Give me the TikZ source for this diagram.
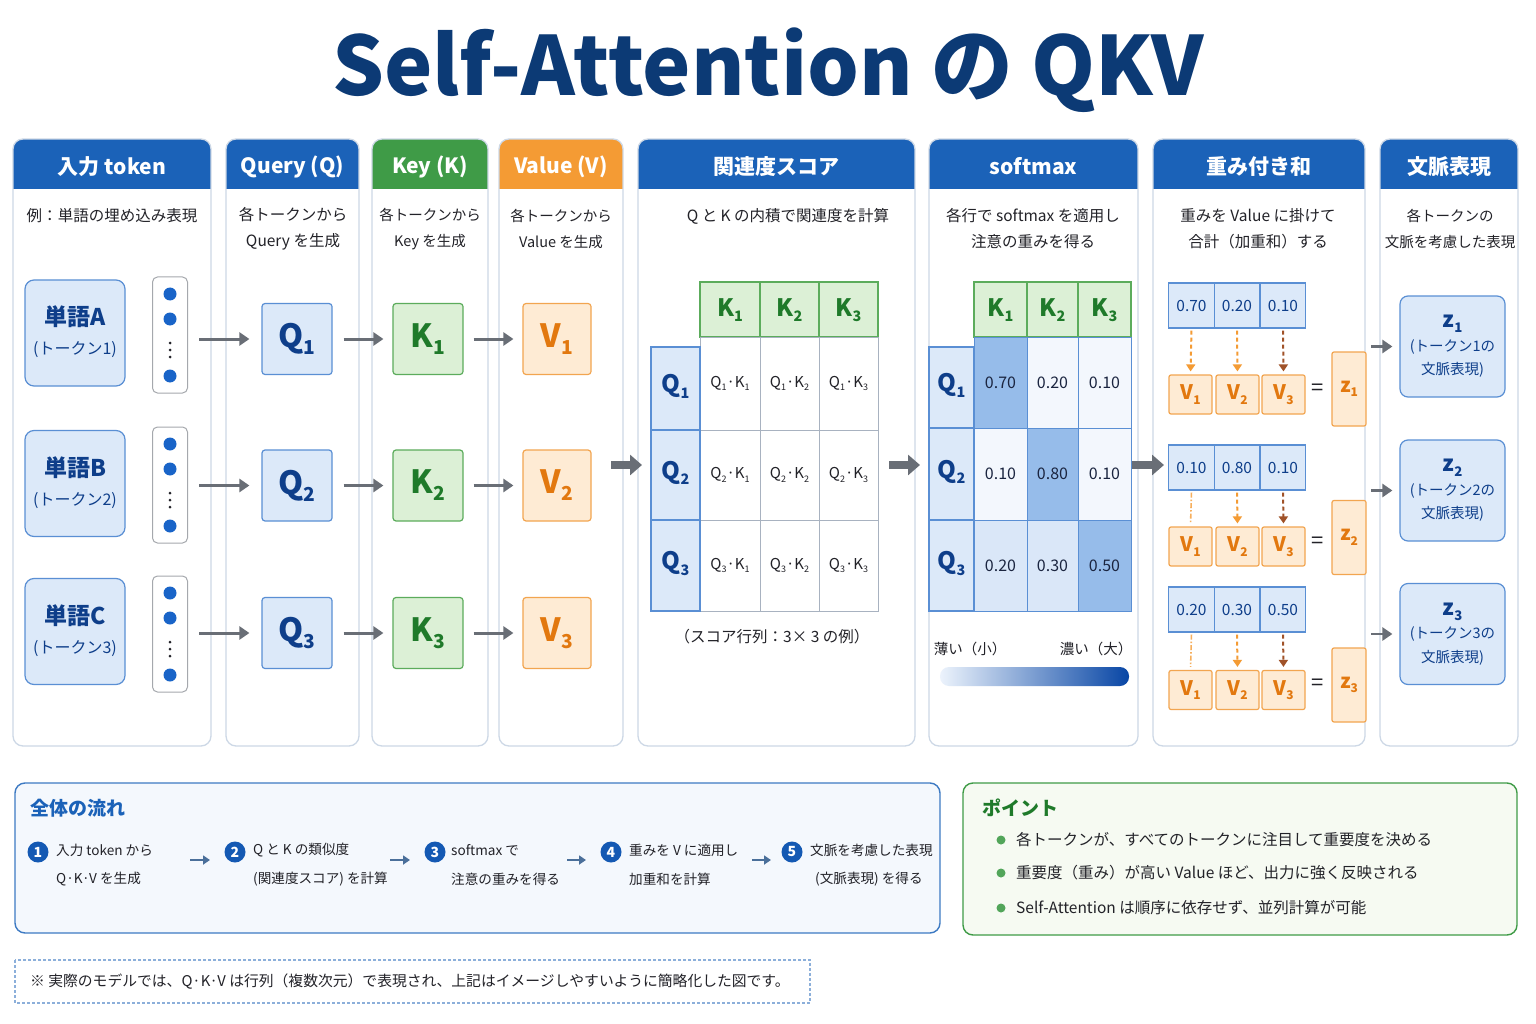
\documentclass[tikz,border=0pt]{standalone}
\usepackage{fontspec}
\usepackage{graphicx}
\setmainfont{Noto Sans CJK JP}
\usetikzlibrary{arrows.meta}
\definecolor{navy}{RGB}{12,58,117}
\definecolor{hblue}{RGB}{27,98,184}
\definecolor{hgreen}{RGB}{63,155,71}
\definecolor{horange}{RGB}{244,155,52}
\definecolor{pborder}{RGB}{205,216,230}
\definecolor{txt}{RGB}{34,34,40}
\definecolor{lblue}{RGB}{220,233,249}
\definecolor{bblue}{RGB}{90,143,212}
\definecolor{qtext}{RGB}{14,62,138}
\definecolor{lgreen}{RGB}{220,240,214}
\definecolor{bgreen}{RGB}{92,172,92}
\definecolor{ktext}{RGB}{31,122,42}
\definecolor{lorange}{RGB}{254,235,212}
\definecolor{borange}{RGB}{242,165,80}
\definecolor{vtext}{RGB}{226,120,15}
\definecolor{agray}{RGB}{105,110,118}
\definecolor{cellgray}{RGB}{168,178,192}
\definecolor{dotblue}{RGB}{25,100,200}
\definecolor{brownarr}{RGB}{160,82,40}
\definecolor{flowarr}{RGB}{74,111,154}
\definecolor{circblue}{RGB}{20,89,179}
\definecolor{boxbg}{RGB}{244,248,253}
\definecolor{greenbg}{RGB}{246,250,242}
\definecolor{footb}{RGB}{140,175,218}
\definecolor{smd}{RGB}{150,188,234}
\definecolor{sml}{RGB}{218,231,248}
\definecolor{smw}{RGB}{243,247,253}
\definecolor{numtxt}{RGB}{27,37,64}
\definecolor{barl}{RGB}{236,243,252}
\definecolor{bard}{RGB}{8,70,165}
\newcommand\sbx[1]{\raisebox{-0.22em}{\scalebox{0.6}{#1}}}
\tikzset{
  hdrtxt/.style={text=white,font=\fontsize{21}{24}\selectfont\bfseries},
  subtxt/.style={text=txt,font=\fontsize{15.5}{26}\selectfont,align=center},
  subsm/.style={subtxt,font=\fontsize{14.5}{26}\selectfont},
  qcell/.style={draw=bblue,fill=lblue,line width=1.2pt,rounded corners=3pt,minimum width=70pt,minimum height=71pt,text=qtext,font=\fontsize{32}{32}\selectfont\bfseries},
  kcell/.style={qcell,draw=bgreen,fill=lgreen,text=ktext},
  vcell/.style={qcell,draw=borange,fill=lorange,text=vtext,minimum width=68pt},
  wordbox/.style={draw=bblue,fill=lblue,line width=1.2pt,rounded corners=9pt,minimum width=100pt,minimum height=106pt},
  vecbox/.style={draw=agray!60,fill=white,line width=1pt,rounded corners=5pt,minimum width=35pt,minimum height=116pt},
  garrow/.style={draw=agray,line width=3pt,-{Triangle[length=10pt,width=13pt]}},
  bigarrow/.style={draw=agray,line width=8pt,-{Triangle[length=12pt,width=20pt]}},
  mlabq/.style={text=qtext,font=\fontsize{24}{24}\selectfont\bfseries},
  mlabk/.style={text=ktext,font=\fontsize{24}{24}\selectfont\bfseries},
  celltxt/.style={text=txt,font=\fontsize{15}{15}\selectfont},
  numtext/.style={text=numtxt,font=\fontsize{16}{16}\selectfont},
  wcell/.style={draw=bblue,fill=lblue,line width=1.2pt,minimum width=45.5pt,minimum height=45pt,inner sep=0pt,text=qtext,font=\fontsize{15.5}{15.5}\selectfont},
  wvcell/.style={draw=borange,fill=lorange,line width=1.2pt,rounded corners=2pt,minimum width=43pt,minimum height=39pt,inner sep=0pt,text=vtext,font=\fontsize{20}{20}\selectfont\bfseries},
  zcell/.style={wvcell,minimum width=34pt,minimum height=74pt},
  darr/.style={draw=horange,line width=2pt,dash pattern=on 4pt off 3pt,-{Triangle[length=7pt,width=9pt]},shorten <=2pt,shorten >=3pt},
  brarr/.style={darr,draw=brownarr},
  ddarr/.style={draw=horange!80,line width=1.6pt,dash pattern=on 5pt off 2pt on 1.5pt off 2pt,shorten <=2pt,shorten >=3pt},
  ctxbox/.style={draw=bblue,fill=lblue,line width=1.2pt,rounded corners=8pt,minimum width=105pt,minimum height=101pt,text=qtext,align=center,font=\fontsize{14.5}{23.5}\selectfont},
  numcirc/.style={circle,fill=circblue,text=white,minimum size=21pt,inner sep=0pt,font=\fontsize{14}{14}\selectfont\bfseries},
  steptxt/.style={anchor=west,text=txt,font=\fontsize{13.6}{13.6}\selectfont,inner sep=0pt},
  flowarrow/.style={draw=flowarr,line width=2.5pt,-{Triangle[length=7pt,width=9pt]}},
  pointtxt/.style={anchor=west,text=txt,font=\fontsize{15.5}{15.5}\selectfont,inner sep=0pt}
}
\begin{document}
\begin{tikzpicture}[x=1pt,y=-1pt]
\useasboundingbox (0,0) rectangle (1536,1024);
\fill[white] (0,0) rectangle (1536,1024);

% title
\node[anchor=base,text=navy,font=\fontsize{81.5}{90}\selectfont\bfseries,inner sep=0pt] (title) at (768,96) {Self-Attention の QKV};

% panels
\foreach \xa/\xb/\hc/\ttl [count=\n] in {13/211/hblue/入力 token, 226/359/hblue/Query (Q), 372/488/hgreen/Key (K), 499/623/horange/Value (V), 638/915/hblue/関連度スコア, 929/1138/hblue/softmax, 1153/1365/hblue/重み付き和, 1380/1518/hblue/文脈表現}{
  \fill[white,rounded corners=10pt] (\xa,139) rectangle (\xb,746);
  \begin{scope}
    \clip[rounded corners=10pt] (\xa,139) rectangle (\xb,746);
    \fill[\hc] (\xa,139) rectangle (\xb,189);
  \end{scope}
  \draw[pborder,line width=1.3pt,rounded corners=10pt] (\xa,139) rectangle (\xb,746);
  \node[hdrtxt] (hdr\n) at ({(\xa+\xb)/2},166.5) {\ttl};
}

% subtitles
\node[subtxt] (s1) at (112,216) {例：単語の埋め込み表現};
\node[subtxt] (s2) at (293,229) {各トークンから\\Query を生成};
\node[subsm] (s3) at (430,229) {各トークンから\\Key を生成};
\node[subsm] (s4) at (561,229) {各トークンから\\Value を生成};
\node[subtxt] (s5) at (788,216) {Q と K の内積で関連度を計算};
\node[subtxt] (s6) at (1033,229) {各行で softmax を適用し\\注意の重みを得る};
\node[subtxt] (s7) at (1258,229) {重みを Value に掛けて\\合計（加重和）する};
\node[subsm] (s8) at (1450,229) {各トークンの\\文脈を考慮した表現};

% column 1..4
\foreach \L/\n/\wy/\vy/\qy in {A/1/333/335/339, B/2/483.5/485/485.5, C/3/631.5/634/633}{
  \node[wordbox] (w\n) at (75,\wy) {};
  \node[text=qtext,font=\fontsize{23}{23}\selectfont\bfseries] (wl\n) at (75,\wy-16) {単語\L};
  \node[text=qtext,font=\fontsize{16}{16}\selectfont] (wp\n) at (75,\wy+17) {(トークン\n)};
  \node[vecbox] (vec\n) at (170,\vy) {};
  \fill[dotblue] (170,\vy-41) circle (6.5);
  \fill[dotblue] (170,\vy-16) circle (6.5);
  \fill[txt] (170,\vy+8) circle (1.5);
  \fill[txt] (170,\vy+15) circle (1.5);
  \fill[txt] (170,\vy+22) circle (1.5);
  \fill[dotblue] (170,\vy+41) circle (6.5);
  \node[qcell] (q\n) at (297,\qy) {Q\sbx{\n}};
  \node[kcell] (k\n) at (428,\qy) {K\sbx{\n}};
  \node[vcell] (v\n) at (557,\qy) {V\sbx{\n}};
  \draw[garrow,shorten <=11pt,shorten >=12pt] (vec\n.east |- q\n.west) -- (q\n.west);
  \draw[garrow,shorten <=11pt,shorten >=9pt] (q\n.east) -- (k\n.west);
  \draw[garrow,shorten <=10pt,shorten >=9pt] (k\n.east) -- (v\n.west);
}

% big arrows between panels
\coordinate (ba1s) at (611,465); \coordinate (ba1e) at (642,465);
\coordinate (ba2s) at (889,465); \coordinate (ba2e) at (920,465);
\coordinate (ba3s) at (1132,465); \coordinate (ba3e) at (1164,465);
\draw[bigarrow] (ba1s) -- (ba1e);
\draw[bigarrow] (ba2s) -- (ba2e);
\draw[bigarrow] (ba3s) -- (ba3e);

% score matrix
\foreach \i/\xa/\xb in {1/700/760,2/760/819,3/819/878}{
  \draw[draw=bgreen,fill=lgreen,line width=1.2pt] (\xa,282) rectangle (\xb,337);
  \node[mlabk] (sk\i) at ({(\xa+\xb)/2},310) {K\sbx{\i}};
}
\foreach \i/\ya/\yb in {1/337/430,2/430/520,3/520/611}{
  \foreach \j/\xa/\xb in {1/700/760,2/760/819,3/819/878}{
    \draw[cellgray,fill=white,line width=1pt] (\xa,\ya) rectangle (\xb,\yb);
    \node[celltxt] (sc\i\j) at ({(\xa+\xb)/2},{(\ya+\yb)/2}) {Q\sbx{\i}·K\sbx{\j}};
  }
}
\foreach \i/\ya/\yb in {1/347/430,2/430/520,3/520/611}{
  \draw[draw=bblue,fill=lblue,line width=1.2pt] (651,\ya) rectangle (700,\yb);
  \node[mlabq] (sq\i) at (675.5,{(\ya+\yb)/2-2}) {Q\sbx{\i}};
}
\node[subtxt] (scap) at (772,637) {（スコア行列：3× 3 の例）};

% softmax matrix
\foreach \i/\xa/\xb in {1/974/1027,2/1027/1078,3/1078/1131}{
  \draw[draw=bgreen,fill=lgreen,line width=1.2pt] (\xa,282) rectangle (\xb,337);
  \node[mlabk] (mk\i) at ({(\xa+\xb)/2},310) {K\sbx{\i}};
}
\foreach \i/\ya/\yb/\ca/\cb/\cc/\va/\vb/\vc in {1/337/428/smd/smw/smw/0.70/0.20/0.10, 2/428/520/smw/smd/smw/0.10/0.80/0.10, 3/520/611/sml/sml/smd/0.20/0.30/0.50}{
  \draw[bblue,fill=\ca,line width=1pt] (974,\ya) rectangle (1027,\yb);
  \draw[bblue,fill=\cb,line width=1pt] (1027,\ya) rectangle (1078,\yb);
  \draw[bblue,fill=\cc,line width=1pt] (1078,\ya) rectangle (1131,\yb);
  \node[numtext] (m\i1) at (1000.5,{(\ya+\yb)/2}) {\va};
  \node[numtext] (m\i2) at (1052.5,{(\ya+\yb)/2}) {\vb};
  \node[numtext] (m\i3) at (1104.5,{(\ya+\yb)/2}) {\vc};
}
\foreach \i/\ya/\yb in {1/347/428,2/428/520,3/520/611}{
  \draw[draw=bblue,fill=lblue,line width=1.2pt] (929,\ya) rectangle (974,\yb);
  \node[mlabq] (mq\i) at (951.5,{(\ya+\yb)/2-2}) {Q\sbx{\i}};
}
\node[subtxt,font=\fontsize{14.5}{16}\selectfont] (lgl) at (970,649) {薄い（小）};
\node[subtxt,font=\fontsize{14.5}{16}\selectfont] (lgr) at (1096,649) {濃い（大）};
\shade[left color=barl,right color=bard,rounded corners=9pt] (940,667) rectangle (1129,686);

% weighted sum
\foreach \r/\wy/\vy/\ey/\zy/\wa/\wb/\wc in {1/305.5/394.5/390/389/0.70/0.20/0.10, 2/467.5/546.5/543/537.5/0.10/0.80/0.10, 3/609.5/690/685/685/0.20/0.30/0.50}{
  \node[wcell] (wt\r1) at (1191.5,\wy) {\wa};
  \node[wcell] (wt\r2) at (1237,\wy) {\wb};
  \node[wcell] (wt\r3) at (1283,\wy) {\wc};
  \node[wvcell] (wv\r1) at (1190.5,\vy) {V\sbx{1}};
  \node[wvcell] (wv\r2) at (1237.5,\vy) {V\sbx{2}};
  \node[wvcell] (wv\r3) at (1283.5,\vy) {V\sbx{3}};
  \node[text=txt,font=\fontsize{22}{22}\selectfont] (eq\r) at (1318,\ey) {=};
  \node[zcell] (z\r) at (1349,\zy) {z\sbx{\r}};
}
\draw[darr] (wt11.south) -- (wv11.north);
\draw[darr] (wt12.south) -- (wv12.north);
\draw[brarr] (wt13.south) -- (wv13.north);
\draw[ddarr] (wt21.south) -- (wv21.north);
\draw[darr] (wt22.south) -- (wv22.north);
\draw[brarr] (wt23.south) -- (wv23.north);
\draw[ddarr] (wt31.south) -- (wv31.north);
\draw[darr] (wt32.south) -- (wv32.north);
\draw[brarr] (wt33.south) -- (wv33.north);

% context
\foreach \n/\cy in {1/346.5, 2/490.5, 3/634}{
  \node[ctxbox] (ctx\n) at (1452.5,\cy) {{\fontsize{22}{26}\selectfont\bfseries z\sbx{\n}}\\(トークン\n の\\文脈表現)};
  \coordinate (ca\n) at (1371,\cy);
  \draw[garrow,line width=2.5pt,shorten >=7pt] (ca\n) -- (ctx\n.west);
}

% flow box
\draw[draw=hblue!85,fill=boxbg,line width=1.4pt,rounded corners=10pt] (15,783) rectangle (940,933);
\node[anchor=west,text=hblue,font=\fontsize{19}{19}\selectfont\bfseries,inner sep=0pt] (flowt) at (30,808) {全体の流れ};
\foreach \n/\cx/\tx/\tb/\la/\lb in {1/38/56/56/入力 token から/Q·K·V を生成, 2/235/253/253/Q と K の類似度/(関連度スコア) を計算, 3/435/451/451/softmax で/注意の重みを得る, 4/611/629/629/重みを V に適用し/加重和を計算, 5/792/810/815/文脈を考慮した表現/(文脈表現) を得る}{
  \node[numcirc] (nc\n) at (\cx,852) {\n};
  \node[steptxt] (sa\n) at (\tx,850) {\la};
  \node[steptxt] (sb\n) at (\tb,879) {\lb};
}
\foreach \a/\b/\n in {190/210/1, 390/410/2, 567/586/3, 752/771/4}{
  \coordinate (fa\n) at (\a,860); \coordinate (fb\n) at (\b,860);
  \draw[flowarrow] (fa\n) -- (fb\n);
}

% points box
\draw[draw=hgreen,fill=greenbg,line width=1.4pt,rounded corners=10pt] (963,783) rectangle (1517,935);
\node[anchor=west,text=ktext,font=\fontsize{19}{19}\selectfont\bfseries,inner sep=0pt] (ptt) at (982,808) {ポイント};
\foreach \y/\t [count=\n] in {840/各トークンが、すべてのトークンに注目して重要度を決める, 873/重要度（重み）が高い Value ほど、出力に強く反映される, 908/Self-Attention は順序に依存せず、並列計算が可能}{
  \fill[hgreen!90] (1001,\y) circle (4.5);
  \node[pointtxt] (pt\n) at (1016,\y) {\t};
}

% footnote
\draw[footb,line width=1.2pt,dash pattern=on 3pt off 2pt] (15,960) rectangle (810,1003);
\node[anchor=west,text=txt,font=\fontsize{14.8}{14.8}\selectfont,inner sep=0pt] (foot) at (30,982) {※ 実際のモデルでは、Q·K·V は行列（複数次元）で表現され、上記はイメージしやすいように簡略化した図です。};
\end{tikzpicture}
\end{document}
